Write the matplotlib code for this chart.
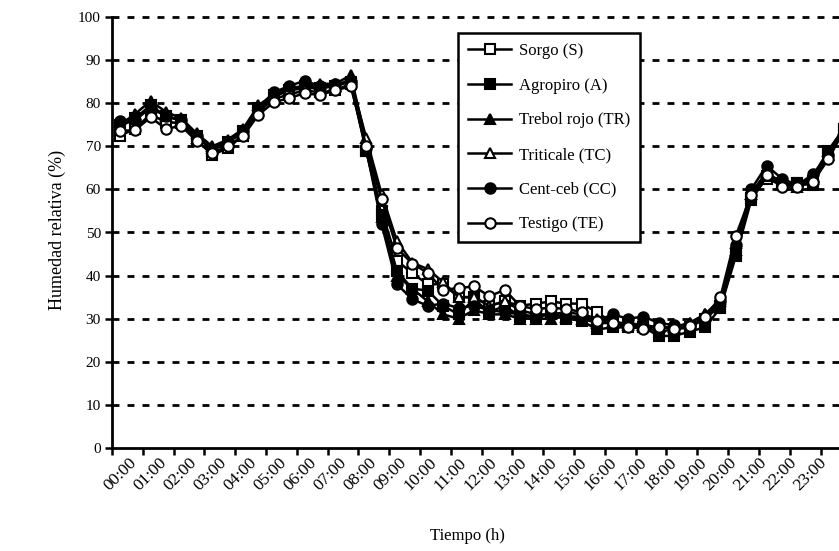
import matplotlib
matplotlib.use("Agg")
import matplotlib.pyplot as plt
import numpy as np

hour_labels = ["%02d:00" % h for h in range(24)]

sorgo = [72.5, 74.0, 77.5, 75.5, 75.5, 71.5, 68.0, 69.5, 72.5, 78.0, 81.0, 82.0, 83.0, 82.5, 83.0, 84.5,
         69.0, 55.0, 43.5, 40.5, 38.0, 38.0, 35.0, 35.0, 33.0, 34.0, 33.0, 33.5, 34.0, 33.5, 33.5, 31.5,
         29.0, 28.5, 28.0, 27.0, 27.5, 28.0, 30.0, 33.0, 45.0, 58.0, 62.5, 61.0, 61.5, 62.0, 69.0, 74.0]
agropiro = [75.0, 76.5, 79.5, 77.0, 76.0, 72.5, 69.0, 71.0, 73.5, 79.0, 82.0, 83.0, 84.0, 83.5, 84.0, 85.0,
            69.0, 54.0, 41.0, 37.0, 36.5, 33.0, 31.0, 34.5, 31.5, 33.0, 30.5, 30.5, 31.0, 30.0, 29.5, 27.5,
            28.0, 28.0, 28.0, 26.0, 26.0, 27.0, 28.0, 32.5, 44.5, 57.5, 63.0, 61.5, 61.5, 61.0, 68.5, 74.0]
trebol = [75.0, 77.5, 80.5, 78.0, 76.5, 73.0, 70.0, 71.5, 74.0, 79.5, 82.0, 83.5, 84.0, 84.5, 84.5, 86.5,
          71.0, 53.5, 40.0, 37.0, 34.0, 31.0, 30.0, 32.0, 31.0, 31.0, 30.0, 30.0, 30.0, 30.5, 30.0, 29.0,
          29.0, 29.0, 28.5, 28.0, 28.0, 29.0, 31.0, 34.0, 46.0, 59.0, 64.0, 61.5, 61.0, 63.0, 69.0, 74.0]
triticale = [74.5, 76.5, 79.0, 77.0, 76.0, 72.0, 69.5, 71.0, 73.0, 78.5, 81.5, 83.0, 83.5, 83.5, 84.0, 85.5,
             72.0, 59.0, 48.0, 43.0, 41.5, 38.5, 35.0, 35.0, 33.0, 34.0, 32.0, 31.0, 31.0, 31.5, 31.0, 30.0,
             29.5, 28.5, 28.5, 28.0, 28.0, 29.0, 31.0, 34.5, 47.5, 59.0, 64.0, 61.0, 60.5, 62.5, 68.0, 74.0]
centceb = [75.8, 76.0, 79.0, 77.0, 76.0, 72.5, 69.0, 71.0, 73.5, 79.0, 82.5, 84.0, 85.2, 84.0, 84.5, 85.0,
           69.5, 52.0, 38.0, 34.5, 33.0, 33.5, 32.5, 33.0, 32.0, 31.5, 31.0, 30.5, 31.0, 30.5, 30.5, 29.5,
           31.0, 30.0, 30.5, 29.0, 28.5, 28.5, 30.0, 34.0, 47.0, 60.0, 65.5, 62.5, 61.0, 63.5, 68.0, 74.0]
testigo = [73.5, 73.8, 76.7, 74.1, 74.7, 71.2, 68.4, 70.1, 72.3, 77.3, 80.2, 81.2, 82.3, 81.9, 83.0, 83.9,
           70.1, 57.7, 46.3, 42.8, 40.6, 36.7, 37.1, 37.5, 35.2, 36.7, 32.9, 32.3, 32.5, 32.3, 31.5, 29.5,
           29.1, 28.1, 27.7, 28.1, 27.7, 28.2, 30.4, 35.0, 49.2, 58.8, 63.3, 60.6, 60.6, 61.7, 67.0, 73.5]

series = [
    ("Sorgo (S)", sorgo, "s", "white"),
    ("Agropiro (A)", agropiro, "s", "black"),
    ("Trebol rojo (TR)", trebol, "^", "black"),
    ("Triticale (TC)", triticale, "^", "white"),
    ("Cent-ceb (CC)", centceb, "o", "black"),
    ("Testigo (TE)", testigo, "o", "white"),
]

plt.rcParams['font.family'] = ['Liberation Serif', 'DejaVu Serif']

W, H = 839, 551
fig = plt.figure(figsize=(W / 100, H / 100), dpi=100)
left = 112 / W
bottom = 1 - 448 / H
top_px = 17
ax = fig.add_axes([left, bottom, 1 - left, (448 - top_px) / H])

x = np.arange(len(testigo))
for name, vals, mk, fc in series:
    ax.plot(x, vals, color="black", lw=1.8, marker=mk, markersize=7.5,
            markerfacecolor=fc, markeredgecolor="black", markeredgewidth=1.5,
            label=name, clip_on=True)

ax.set_xlim(-0.5, 46.7)
ax.set_ylim(0, 100)
ax.set_yticks(np.arange(0, 101, 10))
ax.tick_params(axis="y", direction="out", length=5, width=1.8, labelsize=11, pad=3)

ax.set_xticks(np.arange(-0.5, 47, 2))
ax.set_xticklabels([])
ax.tick_params(axis="x", direction="out", length=5, width=1.8)
# labels slightly more tightly spaced than the ticks, as in the reference
label_step = 1.947
for i, lab in enumerate(hour_labels):
    ax.text(0.6 + label_step * i, -1.6, lab, rotation=45, ha="right", va="top",
            rotation_mode="anchor", fontsize=12.5, transform=ax.transData,
            clip_on=False)

for yv in range(10, 101, 10):
    ax.axhline(yv, color="black", lw=2.0, ls=(0, (2.5, 2.9)), zorder=0.5, clip_on=False)

for s in ["top", "right"]:
    ax.spines[s].set_visible(False)
ax.spines["left"].set_linewidth(2.0)
ax.spines["bottom"].set_linewidth(2.0)

fig.text(57 / W, 1 - 230 / H, "Humedad relativa (%)", rotation=90, ha="center", va="center", fontsize=13)
fig.text(467 / W, 1 - 536 / H, "Tiempo (h)", ha="center", va="center", fontsize=12)

leg = ax.legend(loc="upper left", bbox_to_anchor=(458 / W, 1 - 33 / H), bbox_transform=fig.transFigure,
                frameon=True, fancybox=False, fontsize=12, labelspacing=1.12, handlelength=2.6,
                handletextpad=0.45, borderpad=0.6, borderaxespad=0)
leg.get_frame().set_edgecolor("black")
leg.get_frame().set_linewidth(1.8)
leg.get_frame().set_facecolor("white")
leg.get_frame().set_alpha(1)

fig.savefig("out.png", dpi=100)
